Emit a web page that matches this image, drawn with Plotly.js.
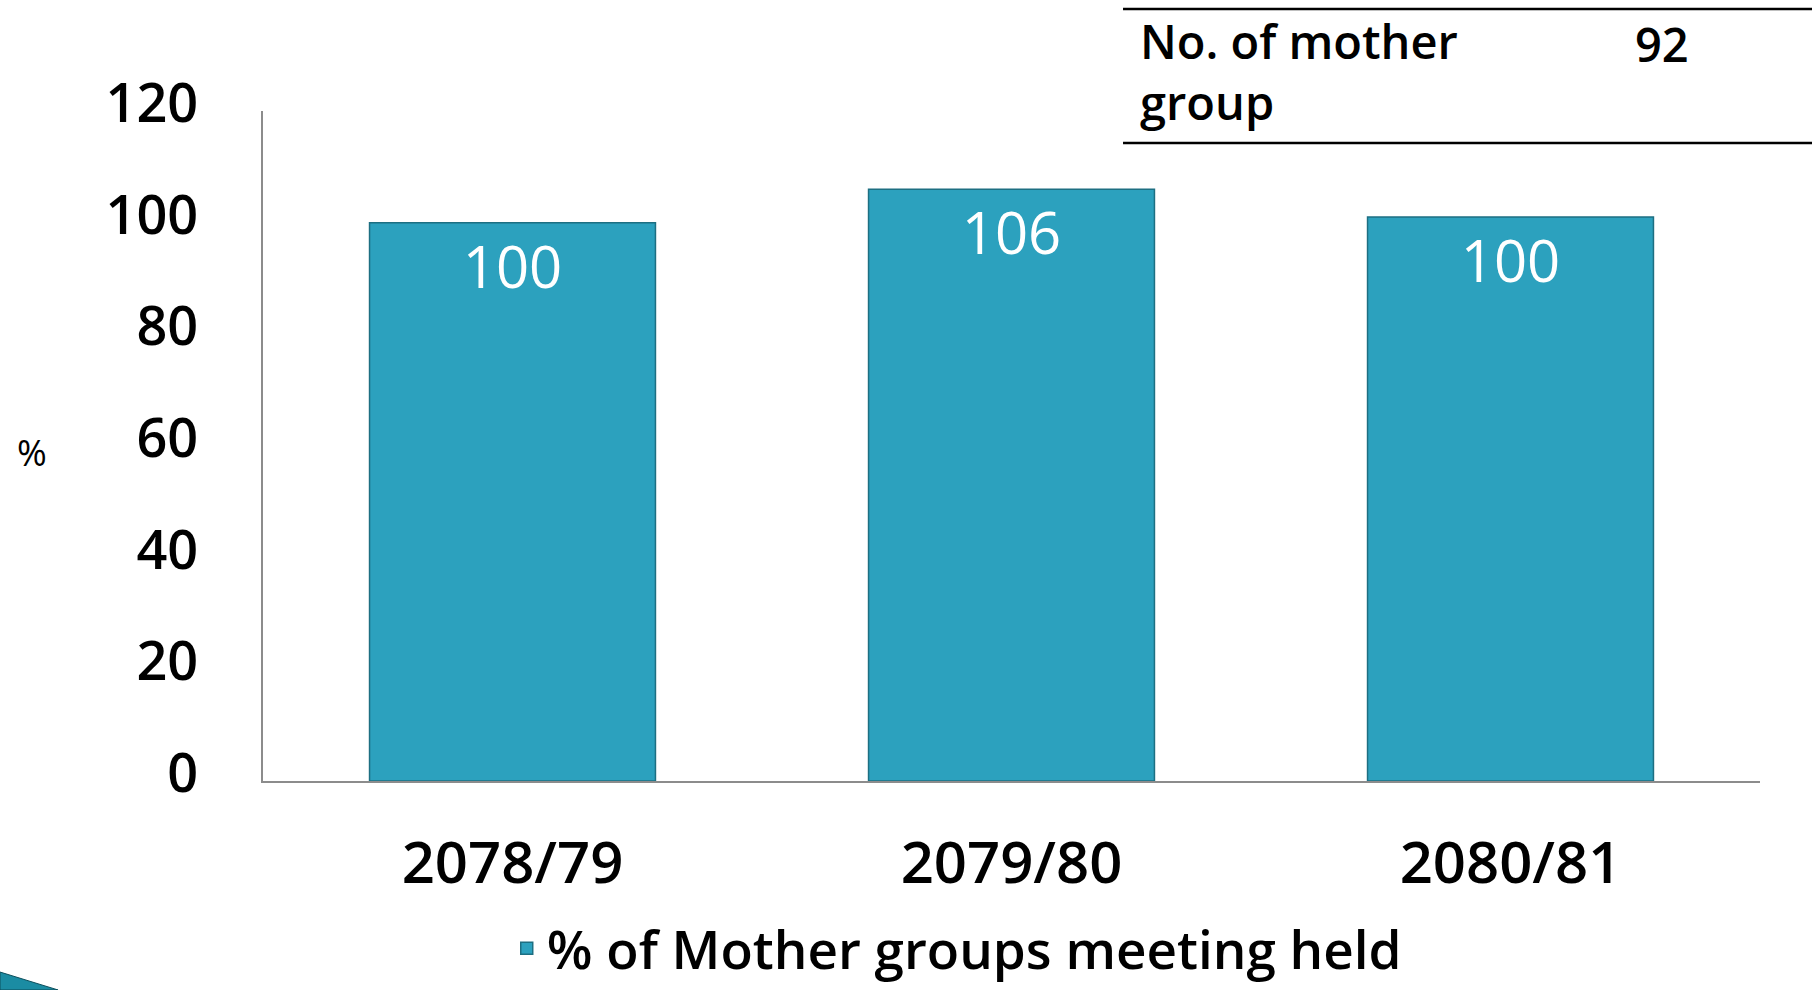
<!DOCTYPE html>
<html>
<head>
<meta charset="utf-8">
<script src="https://cdn.plot.ly/plotly-3.0.1.min.js"></script>
<style>
  html, body { margin: 0; padding: 0; background: #fff; }
  #chart { width: 1812px; height: 990px; }
</style>
</head>
<body>
<div id="chart"></div>
<script>
// Chart data
const years = ['2078/79', '2079/80', '2080/81'];
const meetingPct = [100, 106, 101];
const meetingLabels = ['100', '106', '100'];
const seriesName = '% of Mother groups meeting held';
const yTicks = [0, 20, 40, 60, 80, 100, 120];

// Side table (top right)
const tableLabel = 'No. of mother<br>group';
const tableValue = '92';

const FONT = 'Open Sans, DejaVu Sans, sans-serif';
const barFill = '#2ca1be';
const barEdge = '#1d6f82';

const bars = {
    type: 'bar',
    x: years,
    y: meetingPct,
    name: seriesName,
    text: meetingLabels,
    textposition: 'inside',
    insidetextanchor: 'end',
    textangle: 0,
    textfont: { family: FONT, size: 58, color: '#ffffff' },
    marker: { color: barFill, line: { color: barEdge, width: 1.5 } },
    hoverinfo: 'x+y'
};

const layout = {
    width: 1812,
    height: 990,
    margin: { l: 263, r: 52, t: 111, b: 209, autoexpand: false },
    paper_bgcolor: '#ffffff',
    plot_bgcolor: '#ffffff',
    bargap: 0.427,
    font: { family: FONT, color: '#000000' },
    xaxis: {
        type: 'category',
        showgrid: false,
        zeroline: false,
        showline: true,
        linecolor: '#8c8c8c',
        linewidth: 2,
        ticks: '',
        ticklabelstandoff: 30,
        tickfont: { family: FONT, size: 58, weight: 600, color: '#000' },
        automargin: false
    },
    yaxis: {
        range: [0, 120],
        tickvals: yTicks,
        showgrid: false,
        zeroline: false,
        showline: true,
        linecolor: '#8c8c8c',
        linewidth: 2,
        ticks: '',
        ticklabelstandoff: 52,
        ticklabelshift: -8,
        tickfont: { family: FONT, size: 54, weight: 600, color: '#000' },
        automargin: false
    },
    showlegend: true,
    legend: {
        orientation: 'h',
        xref: 'container',
        yref: 'container',
        x: 0.528,
        xanchor: 'center',
        y: 0.042,
        yanchor: 'middle',
        font: { family: FONT, size: 53, weight: 600, color: '#000' }
    },
    shapes: [
        // table rules
        { type: 'line', xref: 'paper', yref: 'paper', x0: 0.5745, x1: 1.04, y0: 1.1522, y1: 1.1522,
          line: { color: '#000', width: 2.5 } },
        { type: 'line', xref: 'paper', yref: 'paper', x0: 0.5745, x1: 1.04, y0: 0.9522, y1: 0.9522,
          line: { color: '#000', width: 2.5 } },
        // slide decoration, bottom-left corner
        { type: 'path', xref: 'paper', yref: 'paper',
          path: 'M -0.1757 -0.2851 L -0.1369 -0.3119 L -0.1757 -0.3119 Z',
          fillcolor: '#1b8ca3', line: { color: '#0d4f5c', width: 1 } }
    ],
    annotations: [
        { xref: 'paper', yref: 'paper', x: -0.154, y: 0.49, xanchor: 'center', yanchor: 'middle',
          showarrow: false, text: '%',
          font: { family: FONT, size: 36, color: '#000' } },
        { xref: 'paper', yref: 'paper', x: 0.5845, y: 1.059, xanchor: 'left', yanchor: 'middle',
          align: 'left', showarrow: false, text: tableLabel,
          font: { family: FONT, size: 47, weight: 600, color: '#000' } },
        { xref: 'paper', yref: 'paper', x: 0.9346, y: 1.1, xanchor: 'center', yanchor: 'middle',
          showarrow: false, text: tableValue,
          font: { family: FONT, size: 47, weight: 600, color: '#000' } }
    ]
};

Plotly.newPlot('chart', [bars], layout, { displayModeBar: false, staticPlot: true });
</script>
</body>
</html>
